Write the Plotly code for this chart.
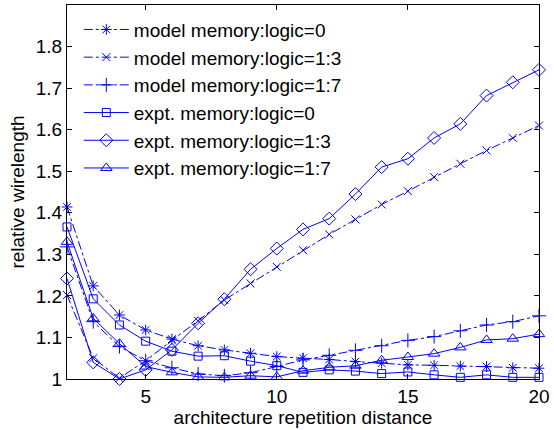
import plotly.graph_objects as go

distance = list(range(2, 21))

model_0 = [1.414, 1.224, 1.154, 1.118, 1.096, 1.080, 1.070, 1.062, 1.054, 1.050,
           1.047, 1.042, 1.038, 1.034, 1.033, 1.031, 1.030, 1.027, 1.026]
model_1_3 = [1.202, 1.050, 1.002, 1.044, 1.093, 1.140, 1.190, 1.230, 1.270, 1.310,
             1.348, 1.384, 1.420, 1.452, 1.486, 1.518, 1.550, 1.580, 1.610]
model_1_7 = [1.318, 1.138, 1.078, 1.044, 1.027, 1.012, 1.008, 1.015, 1.030, 1.046,
             1.057, 1.069, 1.080, 1.093, 1.102, 1.116, 1.130, 1.138, 1.152]
expt_0 = [1.366, 1.193, 1.130, 1.091, 1.067, 1.055, 1.056, 1.043, 1.032, 1.016,
          1.022, 1.019, 1.013, 1.017, 1.010, 1.004, 1.010, 1.004, 1.004]
expt_1_3 = [1.242, 1.040, 1.000, 1.022, 1.070, 1.134, 1.192, 1.264, 1.314, 1.360,
            1.386, 1.445, 1.510, 1.530, 1.580, 1.614, 1.682, 1.714, 1.744]
expt_1_7 = [1.330, 1.146, 1.085, 1.030, 1.016, 1.005, 1.004, 1.008, 1.005, 1.020,
            1.028, 1.032, 1.045, 1.053, 1.061, 1.076, 1.094, 1.097, 1.108]

x_ticks = [5, 10, 15, 20]
y_ticks = [1, 1.1, 1.2, 1.3, 1.4, 1.5, 1.6, 1.7, 1.8]
y_labels = ["1", "1.1", "1.2", "1.3", "1.4", "1.5", "1.6", "1.7", "1.8"]

names = ["model memory:logic=0", "model memory:logic=1:3", "model memory:logic=1:7",
         "expt. memory:logic=0", "expt. memory:logic=1:3", "expt. memory:logic=1:7"]
series = [model_0, model_1_3, model_1_7, expt_0, expt_1_3, expt_1_7]
symbols = ["asterisk-open", "x-thin-open", "cross-thin-open",
           "square-open", "diamond-open", "triangle-up-open"]
sizes = [9, 8, 10, 8, 10, 10]
dashes = ["dashdot", "dashdot", "dashdot", "solid", "solid", "solid"]

BLUE = "#0000ff"
fig = go.Figure()
for name, ys, sym, sz, dash in zip(names, series, symbols, sizes, dashes):
    fig.add_trace(go.Scatter(
        x=distance, y=ys, name=name, mode="lines+markers",
        line=dict(color=BLUE, width=1, dash=dash),
        marker=dict(symbol=sym, size=sz, color=BLUE, line=dict(color=BLUE, width=1)),
        cliponaxis=False,
    ))

font = dict(family="Liberation Sans, Arial, sans-serif", size=19, color="black")
fig.update_layout(
    width=554, height=430,
    margin=dict(l=67, r=10, t=4, b=51),
    paper_bgcolor="white", plot_bgcolor="white",
    font=font,
    showlegend=True,
    legend=dict(x=0.025, y=0.985, xanchor="left", yanchor="top",
                bgcolor="rgba(255,255,255,1)", borderwidth=0,
                font=font, itemwidth=45, tracegroupgap=0),
    xaxis=dict(range=[2, 20], tickvals=x_ticks, ticks="inside", ticklen=5,
               tickcolor="black", showline=True, linecolor="black", linewidth=1,
               mirror="ticks", showgrid=False, zeroline=False,
               ticklabeloverflow="allow",
               title=dict(text="architecture repetition distance", standoff=4,
                          font=font)),
    yaxis=dict(range=[1, 1.9], tickvals=y_ticks, ticktext=y_labels,
               ticks="inside", ticklen=5, tickcolor="black", showline=True,
               linecolor="black", linewidth=1, mirror="ticks", showgrid=False,
               zeroline=False, ticklabeloverflow="allow",
               title=dict(text="relative wirelength", standoff=6, font=font)),
)

fig.write_html("out.html")
